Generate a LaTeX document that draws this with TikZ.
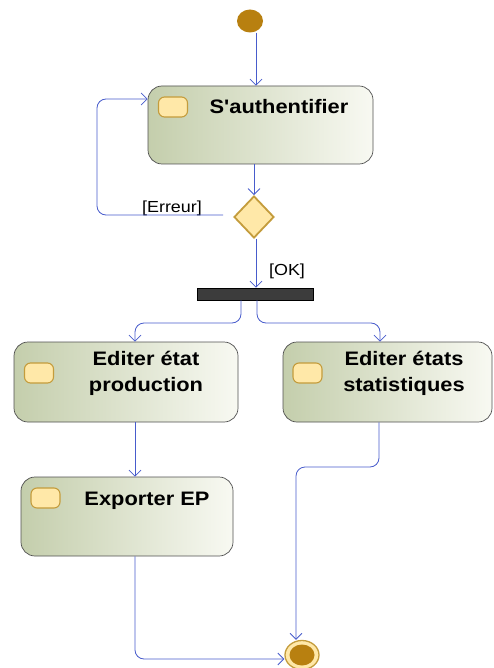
\documentclass[tikz,border=0pt]{standalone}
\usepackage{fontspec}
\newfontfamily\diagfont{Liberation Sans}[FakeStretch=1.12]
\usetikzlibrary{arrows.meta,shapes.geometric}

\definecolor{flowblue}{RGB}{72,92,204}
\definecolor{boxleft}{RGB}{196,206,172}
\definecolor{boxright}{RGB}{248,249,242}
\definecolor{boxedge}{RGB}{80,80,80}
\definecolor{iconfill}{RGB}{255,232,168}
\definecolor{iconedge}{RGB}{196,156,60}
\definecolor{dotfill}{RGB}{184,128,16}
\definecolor{barfill}{RGB}{60,60,60}

\tikzset{
  act/.style={draw=boxedge, line width=0.7pt, rounded corners=14pt,
    left color=boxleft, right color=boxright, inner sep=0pt},
  icon/.style={draw=iconedge, line width=1.1pt, fill=iconfill,
    rounded corners=6pt, minimum width=29pt, minimum height=20pt, inner sep=0pt},
  acttext/.style={font=\diagfont\bfseries\fontsize{19.5}{25.5}\selectfont,
    align=center, anchor=base, inner sep=0pt},
  guard/.style={font=\diagfont\fontsize{16}{18}\selectfont, anchor=base, inner sep=0pt},
  flow/.style={draw=flowblue, line width=0.8pt,
    -{Straight Barb[length=6pt,width=12pt,line width=0.8pt]}},
}

\begin{document}
\begin{tikzpicture}[x=1pt,y=-1pt]
  \useasboundingbox (0,0) rectangle (493,668);
  \fill[white] (0,0) rectangle (493,668);

  % initial node
  \node[ellipse, fill=dotfill, minimum width=26pt, minimum height=23pt, inner sep=0pt] (init) at (250,21) {};

  % actions (two-line labels are anchored on the baseline of their last line)
  \node[act, minimum width=225pt, minimum height=78pt] (auth) at (260.5,125) {};
  \node[icon] (authicon) at (173,107) {};
  \node[acttext] (authtext) at (279,114) {S'authentifier};

  \node[diamond, draw=iconedge, line width=1.8pt, fill=iconfill,
        minimum width=40pt, minimum height=42pt, inner sep=0pt] (dec) at (254,217) {};

  \node[fill=barfill, draw=black, line width=0.6pt, minimum width=116pt,
        minimum height=12pt, inner sep=0pt] (fork) at (255,294) {};

  \node[act, minimum width=224pt, minimum height=80pt] (prod) at (126,382) {};
  \node[icon] (prodicon) at (39,373) {};
  \node[acttext] (prodtext) at (146,391) {Editer état\\production};

  \node[act, minimum width=209pt, minimum height=80pt] (stats) at (387.5,382) {};
  \node[icon] (statsicon) at (307.5,373) {};
  \node[acttext] (statstext) at (404,391) {Editer états\\statistiques};

  \node[act, minimum width=212pt, minimum height=79pt] (export) at (127,516.5) {};
  \node[icon] (exporticon) at (45.5,498) {};
  \node[acttext] (exporttext) at (147,505) {Exporter EP};

  % final node
  \node[ellipse, draw=iconedge, line width=1.3pt, fill=iconfill,
        minimum width=34pt, minimum height=29pt, inner sep=0pt] (final) at (302,655) {};
  \node[ellipse, fill=dotfill, minimum width=25pt, minimum height=21pt, inner sep=0pt] (finaldot) at (302,655) {};

  % guards
  \node[guard] (erreur) at (172,212) {[Erreur]};
  \node[guard] (ok) at (287,275) {[OK]};

  % connectors
  \draw[flow] ([xshift=6pt]init.south) -- ([xshift=6pt]init.south |- auth.north);
  \draw[flow] (dec.north |- auth.south) -- (dec.north);
  \draw[flow, rounded corners=9pt] ([xshift=-10pt,yshift=2pt]dec.west) -- (97,215) -- (97,99) -- ([yshift=26pt]auth.west);
  \draw[flow] ([xshift=2pt]dec.south) -- ([xshift=2pt]dec.south |- fork.north);

  \draw[flow, rounded corners=9pt] ([xshift=-14pt]fork.south) -- (241,323) -- (135,323) -- ([xshift=9pt]prod.north);
  \draw[flow, rounded corners=9pt] ([xshift=2pt]fork.south) -- (257,323) -- (380,323) -- ([xshift=-7.5pt]stats.north);

  \draw[flow] ([xshift=9pt]prod.south) -- ([xshift=8pt]export.north);
  \draw[flow, rounded corners=9pt] ([xshift=8pt]export.south) -- (135,659) -- (final.west |- 0,659);
  \draw[flow, rounded corners=9pt] ([xshift=-8.5pt]stats.south) -- (379,467) -- (296,467) -- ([xshift=-6pt]final.north);
\end{tikzpicture}
\end{document}
